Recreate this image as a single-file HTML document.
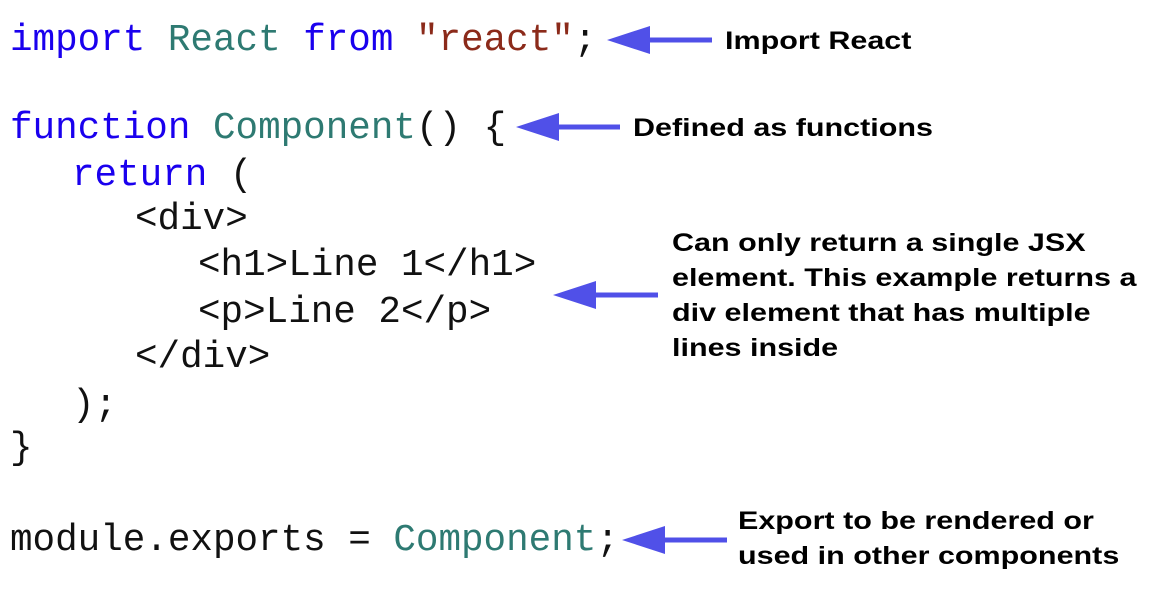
<!DOCTYPE html>
<html><head><meta charset="utf-8"><style>
body{margin:0;width:1167px;height:605px;background:#fff;position:relative;overflow:hidden}
.c{position:absolute;font-family:"Liberation Mono",monospace;font-size:37.6px;line-height:46px;white-space:pre;color:#111}
.k{color:#1a00ee}.t{color:#2e7a72}.s{color:#8b2a1a}
.l{position:absolute;font-family:"Liberation Sans",sans-serif;font-weight:bold;font-size:25px;line-height:35px;color:#000;white-space:pre;transform:scaleX(1.22);transform-origin:0 0}
svg{position:absolute;left:0;top:0}
</style></head><body>
<div class="c" style="left:10px;top:18px"><span class="k">import</span> <span class="t">React</span> <span class="k">from</span> <span class="s">"react"</span>;</div>
<div class="c" style="left:10px;top:106px"><span class="k">function</span> <span class="t">Component</span>() {</div>
<div class="c" style="left:72px;top:153px"><span class="k">return</span> (</div>
<div class="c" style="left:135px;top:197px">&lt;div&gt;</div>
<div class="c" style="left:198px;top:243px">&lt;h1&gt;Line 1&lt;/h1&gt;</div>
<div class="c" style="left:198px;top:290px">&lt;p&gt;Line 2&lt;/p&gt;</div>
<div class="c" style="left:135px;top:335px">&lt;/div&gt;</div>
<div class="c" style="left:72px;top:383px">);</div>
<div class="c" style="left:10px;top:426px">}</div>
<div class="c" style="left:10px;top:518px">module.exports = <span class="t">Component</span>;</div>
<svg width="1167" height="605" fill="#5050e8" stroke="#5050e8">
<g stroke-width="5"><line x1="640" y1="40" x2="712" y2="40"/><line x1="549" y1="127" x2="620" y2="127"/><line x1="586" y1="295" x2="658" y2="295"/><line x1="655" y1="540" x2="727" y2="540"/></g>
<g stroke="none"><polygon points="607,40 650,26 650,54"/><polygon points="516,127 559,113 559,141"/><polygon points="553,295 596,281 596,309"/><polygon points="622,540 665,526 665,554"/></g>
</svg>
<div class="l" style="left:725px;top:24px">Import React</div>
<div class="l" style="left:633px;top:111px">Defined as functions</div>
<div class="l" style="left:672px;top:226px">Can only return a single JSX
element. This example returns a
div element that has multiple
lines inside</div>
<div class="l" style="left:738px;top:504px">Export to be rendered or
used in other components</div>
</body></html>
